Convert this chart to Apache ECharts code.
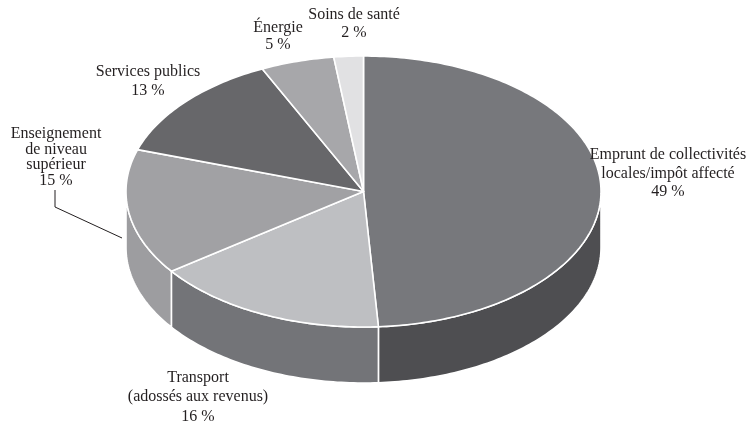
<!DOCTYPE html>
<html><head><meta charset="utf-8">
<script src="https://cdn.jsdelivr.net/npm/echarts@6/dist/echarts.min.js"></script>
<style>html,body{margin:0;padding:0;background:#fff}#c{width:748px;height:426px}</style>
</head><body><div id="c"></div>
<script>
// ---- data ----
const categories = [
  'Emprunt de collectivités\nlocales/impôt affecté',
  'Transport\n(adossés aux revenus)',
  'Enseignement\nde niveau\nsupérieur',
  'Services publics',
  'Énergie',
  'Soins de santé'
];
const values = [49, 16, 15, 13, 5, 2];

// ---- styles / layout ----
const topColors  = ['#77787c', '#bebfc2', '#a1a1a4', '#67676a', '#a7a7aa', '#e1e1e3'];
const sideColors = ['#4e4e51', '#737478', '#9d9da0', '#555557', '#8a8a8d', '#c5c5c7'];
// label anchor: [centerX, topY, lineHeight] in pixels
const labelLayout = [
  [668, 146, 18.5],
  [198, 368, 19.5],
  [56, 126, 15.7],
  [148, 62, 19],
  [278, 19, 17.5],
  [354, 6, 18]
];
const DEPTH = 56 / 135.5;   // side height, in units of the vertical radius

const total = values.reduce((a, b) => a + b, 0);
let acc = 0;
const sliceData = values.map((v, i) => { const s = acc / total; acc += v; return [i, s, acc / total, v]; });

function arcPts(api, a0, a1, dy) {
  const pts = [];
  const n = Math.max(2, Math.ceil(Math.abs(a1 - a0) / (Math.PI / 180)));
  for (let k = 0; k <= n; k++) {
    const t = a0 + (a1 - a0) * k / n;
    pts.push(api.coord([Math.sin(t), Math.cos(t) - dy]));
  }
  return pts;
}

const chart = echarts.init(document.getElementById('c'), null, { renderer: 'canvas' });
chart.setOption({
  animation: false,
  backgroundColor: '#fff',
  grid: { left: 126, width: 475, top: 56, height: 327 },
  xAxis: { type: 'value', min: -1, max: 1, show: false },
  yAxis: { type: 'value', min: -1 - DEPTH, max: 1, show: false },
  graphic: [{
    type: 'polyline',
    shape: { points: [[55, 190], [55, 207], [122, 238]] },
    style: { stroke: '#231f20', lineWidth: 1, fill: null },
    z: 10
  }],
  series: [
    {
      type: 'custom',
      z: 1,
      data: sliceData,
      renderItem: function (params, api) {
        const i = api.value(0);
        const a0 = Math.max(api.value(1) * 2 * Math.PI, Math.PI / 2);
        const a1 = Math.min(api.value(2) * 2 * Math.PI, 3 * Math.PI / 2);
        if (a1 <= a0) return { type: 'group', children: [] };
        const pts = arcPts(api, a0, a1, 0).concat(arcPts(api, a1, a0, DEPTH));
        return {
          type: 'polygon',
          shape: { points: pts },
          style: { fill: sideColors[i], stroke: '#ffffff', lineWidth: 1.6, lineJoin: 'round' }
        };
      }
    },
    {
      type: 'custom',
      z: 2,
      data: sliceData,
      renderItem: function (params, api) {
        const i = api.value(0);
        const a0 = api.value(1) * 2 * Math.PI;
        const a1 = api.value(2) * 2 * Math.PI;
        const pts = [api.coord([0, 0])].concat(arcPts(api, a0, a1, 0));
        const L = labelLayout[i];
        return {
          type: 'group',
          children: [
            {
              type: 'polygon',
              shape: { points: pts },
              style: { fill: topColors[i], stroke: '#ffffff', lineWidth: 1.6, lineJoin: 'round' }
            },
            {
              type: 'text',
              x: L[0], y: L[1],
              style: {
                text: categories[i] + '\n' + api.value(3) + ' %',
                fontFamily: '"Liberation Serif", "Times New Roman", serif',
                fontSize: 16,
                lineHeight: L[2],
                fill: '#231f20',
                align: 'center',
                verticalAlign: 'top'
              }
            }
          ]
        };
      }
    }
  ]
});
</script>
</body></html>
